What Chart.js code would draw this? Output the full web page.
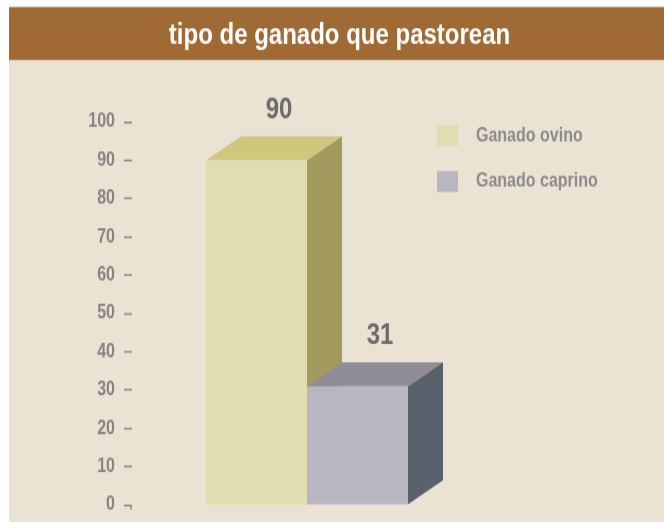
<!DOCTYPE html>
<html lang="es">
<head>
<meta charset="UTF-8">
<title>tipo de ganado que pastorean</title>
<script src="https://cdn.jsdelivr.net/npm/chart.js"></script>
<style>
  html, body { margin: 0; padding: 0; background: #fff; overflow: hidden; }
</style>
</head>
<body>
<!-- the original picture is stretched vertically, so the canvas is drawn short and scaled up -->
<canvas id="chart" width="664" height="428" style="display:block;width:664px;height:522px"></canvas>
<script>
const chartTitle = 'tipo de ganado que pastorean';
const seriesNames = ['Ganado ovino', 'Ganado caprino'];
const seriesValues = [90, 31];
const yMin = 0, yMax = 100, yStep = 10;

const frontColors = ['#E2DDB1', '#B8B6C1'];
const topColors = ['#D0C77D', '#918D97'];
const sideColors = ['#A39A5E', '#5A606C'];

const STRETCH = 522 / 428;
const DEPTH_X = 35;
const DEPTH_Y = 24 / STRETCH;
const FONT = "'Liberation Sans', Arial, sans-serif";

Chart.defaults.font.family = FONT;

function poly(ctx, pts, color) {
    ctx.beginPath();
    ctx.moveTo(pts[0][0], pts[0][1]);
    for (let k = 1; k < pts.length; k++) ctx.lineTo(pts[k][0], pts[k][1]);
    ctx.closePath();
    ctx.fillStyle = color;
    ctx.fill();
}

const decor = {
    id: 'decor',
    beforeDraw(chart) {
        const ctx = chart.ctx;
        ctx.save();
        ctx.fillStyle = '#ffffff';
        ctx.fillRect(0, 0, chart.width, chart.height);
        ctx.fillStyle = '#EAE3D3';
        ctx.fillRect(9, 49, chart.width - 9, chart.height - 49);
        ctx.fillStyle = '#A06A35';
        ctx.fillRect(9, 5.7, chart.width - 9, 43.5);
        ctx.fillStyle = '#ffffff';
        ctx.font = 'bold 24px ' + FONT;
        ctx.textAlign = 'center';
        ctx.textBaseline = 'alphabetic';
        ctx.fillText(chartTitle, 339.5, 36.2);
        ctx.restore();
    },
    // top and side faces go under the fronts, which Chart.js paints afterwards
    beforeDatasetsDraw(chart) {
        const ctx = chart.ctx;
        ctx.save();
        chart.data.datasets.forEach((ds, i) => {
            const bar = chart.getDatasetMeta(i).data[0];
            const p = bar.getProps(['x', 'y', 'base', 'width'], true);
            const l = p.x - p.width / 2, r = p.x + p.width / 2;
            poly(ctx, [[l, p.y], [r, p.y], [r + DEPTH_X, p.y - DEPTH_Y], [l + DEPTH_X, p.y - DEPTH_Y]], topColors[i]);
            poly(ctx, [[r, p.y], [r + DEPTH_X, p.y - DEPTH_Y], [r + DEPTH_X, p.base - DEPTH_Y], [r, p.base]], sideColors[i]);
        });
        ctx.restore();
    },
    afterDraw(chart) {
        const ctx = chart.ctx;
        ctx.save();
        // value labels above each block
        ctx.font = 'bold 24px ' + FONT;
        ctx.fillStyle = '#6B6B6B';
        ctx.textAlign = 'center';
        ctx.textBaseline = 'alphabetic';
        chart.data.datasets.forEach((ds, i) => {
            const bar = chart.getDatasetMeta(i).data[0];
            const p = bar.getProps(['x', 'y'], true);
            ctx.fillText(String(ds.data[0]), p.x + DEPTH_X / 2 + 5, p.y - DEPTH_Y - 14.5);
        });
        // corner on the zero tick
        const y0 = chart.scales.y.getPixelForValue(0);
        ctx.strokeStyle = '#858585';
        ctx.lineWidth = 1.4;
        ctx.beginPath();
        ctx.moveTo(chart.chartArea.left - 1, y0);
        ctx.lineTo(chart.chartArea.left - 1, y0 + 4);
        ctx.stroke();
        // legend
        ctx.font = 'bold 16px ' + FONT;
        ctx.textAlign = 'left';
        ctx.textBaseline = 'middle';
        chart.data.datasets.forEach((ds, i) => {
            const top = 102.5 + i * 37.7;
            ctx.fillStyle = frontColors[i];
            ctx.fillRect(437, top, 21, 17.2);
            ctx.fillStyle = '#8C8C8C';
            ctx.fillText(ds.label, 476, top + 8.8);
        });
        ctx.restore();
    }
};

new Chart(document.getElementById('chart'), {
    type: 'bar',
    data: {
        labels: [''],
        datasets: seriesNames.map((name, i) => ({
            label: name,
            data: [seriesValues[i]],
            backgroundColor: frontColors[i],
            borderWidth: 0
        }))
    },
    options: {
        responsive: false,
        devicePixelRatio: 1,
        animation: false,
        events: [],
        categoryPercentage: 202 / 350,
        barPercentage: 1,
        layout: { padding: { top: 100, bottom: 14, left: 0, right: 182 } },
        plugins: {
            legend: { display: false },
            title: { display: false },
            tooltip: { enabled: false }
        },
        scales: {
            x: { display: false },
            y: {
                min: yMin,
                max: yMax,
                afterFit: (scale) => {
                    scale.width = 132;
                    scale.paddingTop = 0;
                    scale.paddingBottom = 0;
                },
                border: { display: false },
                grid: {
                    drawOnChartArea: false,
                    drawTicks: true,
                    tickLength: 8,
                    tickColor: '#858585',
                    tickWidth: 1.4
                },
                ticks: {
                    stepSize: yStep,
                    padding: 9,
                    color: '#858585',
                    font: { size: 16, weight: 'bold' }
                }
            }
        }
    },
    plugins: [decor]
});
</script>
</body>
</html>
